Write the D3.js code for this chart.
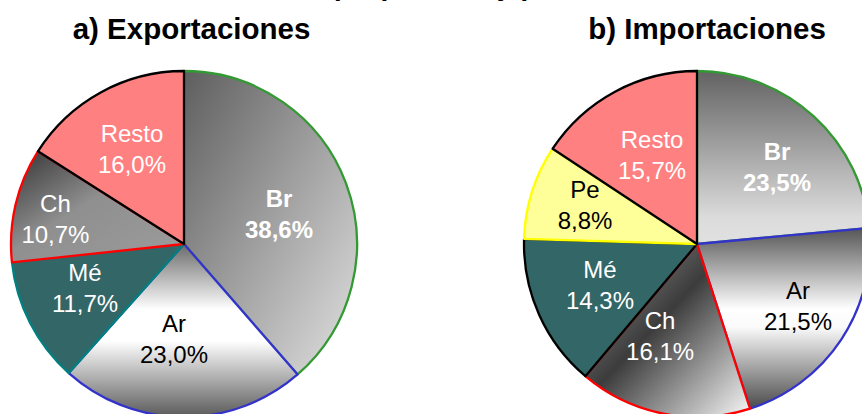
<!DOCTYPE html>
<html><head><meta charset="utf-8">
<script src="https://cdn.jsdelivr.net/npm/d3@7/dist/d3.min.js"></script>
<style>
html,body{margin:0;padding:0;background:#fff;}
svg{display:block;font-family:"Liberation Sans",Arial,sans-serif;}
</style></head>
<body>
<svg id="chart" width="862" height="414"></svg>
<script>
// ---- data ----
const subtitle = "(en porcentaje)";
const exportTitle = "a) Exportaciones";
const exportCategories = ["Br", "Ar", "Mé", "Ch", "Resto"];
const exportValues = [38.6, 23.0, 11.7, 10.7, 16.0];
const importTitle = "b) Importaciones";
const importCategories = ["Br", "Ar", "Ch", "Mé", "Pe", "Resto"];
const importValues = [23.5, 21.5, 16.1, 14.3, 8.8, 15.7];

// ---- styles / layout ----
const exportStyle = {
  fills: ["grad-br-diag", "grad-ar", "#336666", "grad-ch-l", "#ff8080"],
  strokes: ["#339933", "#3333cc", "#008080", "#ff0000", "#000000"],
  labelColors: ["#fff", "#000", "#fff", "#fff", "#fff"],
  labelBold: [true, false, false, false, false],
  labelDist: [99.6, 96, 108.5, 131, 108],
  labelNudge: [3, 5.6, 3, -2.1, 0]
};
const importStyle = {
  fills: ["grad-br-vert", "grad-ar2", "grad-ch-r", "#336666", "#ffff99", "#ff8080"],
  strokes: ["#339933", "#3333cc", "#ff0000", "#000000", "#ffff00", "#000000"],
  labelColors: ["#fff", "#000", "#fff", "#fff", "#000", "#fff"],
  labelBold: [true, false, false, false, false, false],
  labelDist: [111, 118.5, 99, 105.5, 118.6, 100],
  labelNudge: [3.8, -1.9, 10.7, 0.9, 1.6, 1.6]
};

const svg = d3.select("#chart");
const defs = svg.append("defs");
function linGrad(id, x1, y1, x2, y2, stops) {
  const g = defs.append("linearGradient").attr("id", id)
    .attr("x1", x1).attr("y1", y1).attr("x2", x2).attr("y2", y2);
  stops.forEach(s => g.append("stop").attr("offset", s[0]).attr("stop-color", s[1]));
}
linGrad("grad-br-diag", 0, 0, 1, 1, [[0, "#5e5e5e"], [0.5, "#a0a0a0"], [1, "#e2e2e2"]]);
linGrad("grad-ar", 0, 0, 0, 1, [[0, "#6a6a6a"], [0.38, "#ffffff"], [0.56, "#ffffff"], [1, "#5a5a5a"]]);
linGrad("grad-ch-l", 0, 0, 1, 1, [[0, "#333333"], [0.45, "#8f8f8f"], [1, "#9c9c9c"]]);
linGrad("grad-br-vert", 0, 0, 0, 1, [[0, "#626262"], [0.85, "#dcdcdc"], [1, "#e0e0e0"]]);
linGrad("grad-ar2", 0, 0, 0, 1, [[0, "#555555"], [0.45, "#ffffff"], [0.55, "#fafafa"], [1, "#4a4a4a"]]);
linGrad("grad-ch-r", 0, 0, 1, 1, [[0, "#9a9a9a"], [0.45, "#3c3c3c"], [1, "#f8f8f8"]]);

const fmt = v => d3.format(".1f")(v).replace(".", ",") + "%";

function drawPie(cx, cy, r, cats, vals, st, title, titleX) {
  const g = svg.append("g").attr("transform", `translate(${cx},${cy})`);
  const pie = d3.pie().sort(null).value(d => d.v);
  const data = pie(cats.map((c, i) => ({c, v: vals[i], i})));
  const arc = d3.arc().innerRadius(0).outerRadius(r);
  g.selectAll("path.slice").data(data).join("path")
    .attr("class", "slice")
    .attr("d", arc)
    .attr("fill", d => { const f = st.fills[d.data.i]; return f.startsWith("#") ? f : `url(#${f})`; })
    .attr("stroke", d => st.strokes[d.data.i])
    .attr("stroke-width", 2.3)
    .attr("stroke-linejoin", "round");
  const lab = g.selectAll("text.lab").data(data).join("text")
    .attr("class", "lab")
    .attr("text-anchor", "middle")
    .attr("font-size", 24)
    .attr("font-weight", d => st.labelBold[d.data.i] ? "bold" : "normal")
    .attr("fill", d => st.labelColors[d.data.i])
    .attr("transform", d => {
      const a = (d.startAngle + d.endAngle) / 2 + st.labelNudge[d.data.i] * Math.PI / 180;
      const dist = st.labelDist[d.data.i];
      return `translate(${dist * Math.sin(a)},${-dist * Math.cos(a)})`;
    });
  lab.append("tspan").attr("x", 0).attr("y", -7).text(d => d.data.c);
  lab.append("tspan").attr("x", 0).attr("y", 24).text(d => fmt(d.data.v));
  svg.append("text").attr("x", titleX).attr("y", 39)
    .attr("text-anchor", "middle").attr("font-size", 29.5).attr("font-weight", "bold")
    .attr("fill", "#000").text(title);
}

svg.append("text").attr("x", 431).attr("y", -5.5).attr("text-anchor", "middle")
  .attr("font-size", 28).attr("font-weight", "bold").text(subtitle);

drawPie(184, 244, 173, exportCategories, exportValues, exportStyle, exportTitle, 191.5);
drawPie(697, 244, 173, importCategories, importValues, importStyle, importTitle, 707);
</script>
</body></html>
